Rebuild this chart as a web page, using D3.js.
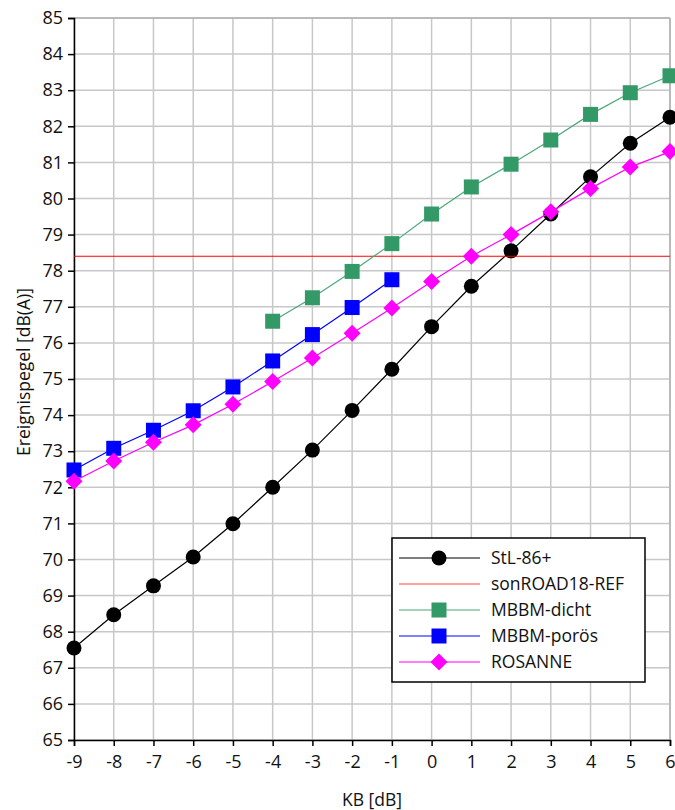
<!DOCTYPE html>
<html><head><meta charset="utf-8">
<script src="https://cdn.jsdelivr.net/npm/d3@7"></script>
<style>body{margin:0;background:#fff}svg{display:block}text{font-family:"Open Sans","Noto Sans",sans-serif;fill:#111}</style>
</head><body><svg id="c" width="675" height="810"></svg>
<script>
const kb = [-9,-8,-7,-6,-5,-4,-3,-2,-1,0,1,2,3,4,5,6];
const stl86 = [67.55,68.47,69.27,70.07,70.99,72.0,73.03,74.13,75.27,76.45,77.57,78.55,79.57,80.6,81.53,82.25];
const sonroadRef = 78.4;
const mbbmDichtKB = [-4,-3,-2,-1,0,1,2,3,4,5,6];
const mbbmDicht = [76.6,77.25,77.98,78.75,79.57,80.32,80.95,81.62,82.33,82.93,83.4];
const mbbmPorosKB = [-9,-8,-7,-6,-5,-4,-3,-2,-1];
const mbbmPoros = [72.48,73.08,73.58,74.12,74.78,75.5,76.23,76.98,77.75];
const rosanne = [72.17,72.73,73.25,73.73,74.3,74.93,75.58,76.27,76.97,77.7,78.4,79.0,79.63,80.28,80.87,81.3];
const yTicks = d3.range(65,86,1);
const xTicks = kb;
const seriesNames = ["StL-86+","sonROAD18-REF","MBBM-dicht","MBBM-porös","ROSANNE"];

const svg = d3.select("#c");
const L=74,R=670,T=18,B=740;
const x = d3.scaleLinear().domain([-9,6]).range([L,R]);
const y = d3.scaleLinear().domain([65,85]).range([B,T]);
const fs = 18;

// grid
svg.append("g").selectAll("line").data(yTicks).join("line")
  .attr("x1",L).attr("x2",R).attr("y1",d=>y(d)).attr("y2",d=>y(d))
  .attr("stroke","#c8c8c8").attr("stroke-width",1.5);
svg.append("g").selectAll("line").data(xTicks).join("line")
  .attr("y1",T).attr("y2",B).attr("x1",d=>x(d)).attr("x2",d=>x(d))
  .attr("stroke","#c8c8c8").attr("stroke-width",1.5);
// frame top/right
svg.append("line").attr("x1",L).attr("x2",R).attr("y1",T).attr("y2",T).attr("stroke","#b0b0b0").attr("stroke-width",1.5);
svg.append("line").attr("x1",R).attr("x2",R).attr("y1",T).attr("y2",B).attr("stroke","#b0b0b0").attr("stroke-width",1.5);

// axes
const ya = svg.append("g").attr("transform",`translate(${L},0)`)
  .call(d3.axisLeft(y).tickValues(yTicks).tickSize(6).tickPadding(5).tickFormat(d3.format("d")));
const xa = svg.append("g").attr("transform",`translate(0,${B})`)
  .call(d3.axisBottom(x).tickValues(xTicks).tickSize(6).tickPadding(9).tickFormat(d=>d<0?"-"+Math.abs(d):d));
[ya,xa].forEach(a=>{
  a.selectAll("path").attr("stroke","#000").attr("stroke-width",1.5);
  a.selectAll("line").attr("stroke","#000").attr("stroke-width",1.5);
  a.selectAll("text").attr("font-size",fs).attr("font-family",'"Open Sans",sans-serif').attr("fill","#111");
});

// axis titles
svg.append("text").attr("x",(L+R)/2).attr("y",806).attr("text-anchor","middle").attr("font-size",17.5).text("KB [dB]");
svg.append("text").attr("transform",`translate(30,372) rotate(-90)`).attr("text-anchor","middle").attr("font-size",17.5).text("Ereignispegel [dB(A)]");

const line = d3.line().x(d=>x(d[0])).y(d=>y(d[1]));
function marker(g, type, color, cx, cy){
  if(type==="circle") g.append("circle").attr("cx",cx).attr("cy",cy).attr("r",7.5).attr("fill",color);
  else if(type==="square") g.append("rect").attr("x",cx-7.5).attr("y",cy-7.5).attr("width",15).attr("height",15).attr("fill",color);
  else if(type==="diamond") g.append("path").attr("d",`M${cx},${cy-8.5}L${cx+8.5},${cy}L${cx},${cy+8.5}L${cx-8.5},${cy}Z`).attr("fill",color);
}
function series(xs, ys, color, lineColor, type){
  const pts = xs.map((v,i)=>[v,ys[i]]);
  const g = svg.append("g");
  g.append("path").attr("d",line(pts)).attr("fill","none").attr("stroke",lineColor).attr("stroke-width",1.2);
  pts.forEach(p=>marker(g,type,color,x(p[0]),y(p[1])));
}
series(kb, stl86, "#000", "#000", "circle");
svg.append("line").attr("x1",L).attr("x2",R).attr("y1",y(sonroadRef)).attr("y2",y(sonroadRef)).attr("stroke","#ff0000").attr("stroke-width",1.2);
series(mbbmDichtKB, mbbmDicht, "#339966", "#4aa878", "square");
series(mbbmPorosKB, mbbmPoros, "#0000ff", "#0000ff", "square");
series(kb, rosanne, "#ff00ff", "#ff00ff", "diamond");

// legend
const lg = svg.append("g");
lg.append("rect").attr("x",392).attr("y",538).attr("width",253).attr("height",144).attr("fill","#fff").attr("stroke","#000").attr("stroke-width",1.5);
const lcol = [["#000","#000","circle"],["#ff4444","#ff4444",null],["#339966","#4aa878","square"],["#0000ff","#0000ff","square"],["#ff00ff","#ff00ff","diamond"]];
seriesNames.forEach((n,i)=>{
  const yy = 558 + i*26;
  lg.append("line").attr("x1",399).attr("x2",480).attr("y1",yy).attr("y2",yy).attr("stroke",lcol[i][1]).attr("stroke-width",1.2);
  if(lcol[i][2]) marker(lg,lcol[i][2],lcol[i][0],439,yy);
  lg.append("text").attr("x",491).attr("y",yy+6).attr("font-size",17.5).text(n);
});
</script></body></html>
